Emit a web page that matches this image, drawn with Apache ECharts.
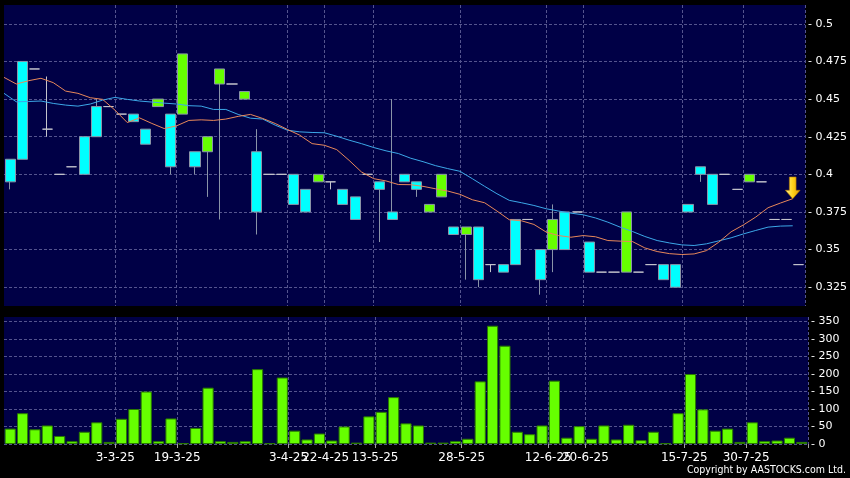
<!DOCTYPE html>
<html><head><meta charset="utf-8">
<script src="https://cdn.jsdelivr.net/npm/echarts@6/dist/echarts.min.js"></script>
<style>html,body{margin:0;padding:0;background:#000;}#c{width:850px;height:478px;}</style>
</head><body><div id="c"></div>
<script>
// ---- data ----
const labelDates = ['3-3-25','19-3-25','3-4-25','22-4-25','13-5-25','28-5-25','12-6-25','20-6-25','15-7-25','30-7-25'];
const labelIndex = [9,14,23,26,30,37,44,47,55,60];

const open = [0.395,0.41,0.47,0.43,0.4,0.405,0.4,0.425,0.445,0.44,
  0.435,0.42,0.45,0.405,0.48,0.405,0.425,0.47,0.46,0.455,
  0.375,0.4,0.4,0.38,0.375,0.4,0.395,0.38,0.37,0.4,
  0.39,0.37,0.395,0.39,0.38,0.4,0.36,0.365,0.33,0.34,
  0.335,0.34,0.37,0.33,0.37,0.35,0.375,0.335,0.335,0.335,
  0.375,0.335,0.34,0.33,0.325,0.375,0.4,0.38,0.4,0.39,
  0.4,0.395,0.37,0.37,0.34];
const close = [0.41,0.475,0.47,0.43,0.4,0.405,0.425,0.445,0.445,0.44,
  0.44,0.43,0.445,0.44,0.44,0.415,0.415,0.46,0.46,0.45,
  0.415,0.4,0.4,0.4,0.39,0.395,0.395,0.39,0.385,0.4,
  0.395,0.375,0.4,0.395,0.375,0.385,0.365,0.36,0.365,0.34,
  0.34,0.37,0.37,0.35,0.35,0.375,0.375,0.355,0.335,0.335,
  0.335,0.335,0.34,0.34,0.34,0.38,0.405,0.4,0.4,0.39,
  0.395,0.395,0.37,0.37,0.34];
const low = [0.39,0.41,0.47,0.425,0.4,0.405,0.4,0.425,0.445,0.44,
  0.435,0.42,0.445,0.4,0.44,0.4,0.385,0.37,0.46,0.45,
  0.36,0.4,0.4,0.38,0.375,0.395,0.39,0.38,0.37,0.4,
  0.355,0.37,0.395,0.385,0.375,0.385,0.36,0.33,0.325,0.335,
  0.335,0.34,0.37,0.32,0.335,0.35,0.375,0.335,0.335,0.335,
  0.335,0.335,0.34,0.33,0.325,0.375,0.395,0.38,0.4,0.39,
  0.395,0.395,0.37,0.37,0.34];
const high = [0.41,0.475,0.47,0.465,0.4,0.405,0.425,0.45,0.445,0.44,
  0.44,0.43,0.45,0.44,0.48,0.415,0.425,0.47,0.46,0.455,
  0.43,0.4,0.4,0.4,0.39,0.4,0.395,0.39,0.385,0.4,
  0.395,0.45,0.4,0.395,0.38,0.4,0.365,0.365,0.365,0.34,
  0.34,0.37,0.37,0.35,0.38,0.375,0.375,0.355,0.335,0.335,
  0.375,0.335,0.34,0.34,0.34,0.38,0.405,0.4,0.4,0.39,
  0.4,0.395,0.37,0.37,0.34];
const volume = [44,88,42,53,23,8,35,62,6,72,
  100,150,8,73,2,46,161,8,6,8,
  214,2,190,38,13,30,10,50,4,79,
  92,134,59,53,4,4,8,15,179,338,
  281,35,28,53,181,18,51,15,53,13,
  55,11,35,2,88,200,99,38,44,6,
  62,8,10,18,6];
const maShort = [0.4644,0.4600,0.4622,0.4638,0.4609,0.4553,0.4538,0.4509,0.4498,0.4427,
  0.4344,0.4375,0.4338,0.4304,0.4322,0.4358,0.4362,0.4358,0.4367,0.4385,
  0.4398,0.4371,0.4338,0.4298,0.4260,0.4204,0.4193,0.4164,0.4093,0.4016,
  0.3971,0.3956,0.3932,0.3931,0.3920,0.3904,0.3889,0.3867,0.3831,0.3811,
  0.3756,0.3698,0.3691,0.3667,0.3616,0.3593,0.3582,0.3593,0.3585,0.3560,
  0.3556,0.3553,0.3511,0.3487,0.3473,0.3467,0.3471,0.3493,0.3549,0.3618,
  0.3664,0.3716,0.3778,0.3809,0.3838];
const maLong = [0.4538,0.4482,0.4484,0.4487,0.4471,0.4460,0.4453,0.4467,0.4493,0.4511,
  0.4498,0.4487,0.4480,0.4473,0.4467,0.4456,0.4453,0.4431,0.4431,0.4398,
  0.4373,0.4367,0.4327,0.4293,0.4282,0.4278,0.4276,0.4253,0.4227,0.4204,
  0.4178,0.4156,0.4138,0.4107,0.4084,0.4058,0.4038,0.4020,0.3971,0.3920,
  0.3871,0.3827,0.3811,0.3793,0.3771,0.3756,0.3742,0.3731,0.3710,0.3682,
  0.3649,0.3620,0.3587,0.3560,0.3544,0.3531,0.3527,0.3538,0.3558,0.3578,
  0.3604,0.3627,0.3649,0.3656,0.3658];

// ---- build ----
const N = open.length;
const labelMap = {};
labelIndex.forEach((k, j) => { labelMap[k] = labelDates[j]; });
const categories = Array.from({length: N}, (_, i) => labelMap[i] || ('#' + i));
const edgeCats = Array.from({length: N + 1}, (_, i) => 'e' + i);
const candleData = open.map((o, i) => [o, close[i], low[i], high[i]]);
const isLabel = (idx) => labelMap[idx] !== undefined;

const GRID = '#54548e';
const dash = [3, 2];
const FONT = 'DejaVu Sans';

const chart = echarts.init(document.getElementById('c'));
chart.setOption({
  animation: false,
  backgroundColor: '#000000',
  grid: [
    {left: 4, right: 42, top: 5, height: 301, show: true, backgroundColor: '#000046', borderWidth: 0},
    {left: 4, right: 42, top: 317, height: 127, show: true, backgroundColor: '#000046', borderWidth: 0}
  ],
  xAxis: [
    {type: 'category', gridIndex: 0, data: categories, boundaryGap: true,
     axisLine: {show: false}, axisTick: {show: false}, axisLabel: {show: false},
     splitLine: {show: true, interval: isLabel, lineStyle: {color: GRID, type: dash, width: 1}}},
    {type: 'category', gridIndex: 0, data: edgeCats, boundaryGap: false, show: false},
    {type: 'category', gridIndex: 1, data: categories, boundaryGap: true,
     axisLine: {show: false},
     axisTick: {show: true, interval: isLabel, length: 4, lineStyle: {color: '#a0a0a0'}},
     axisLabel: {show: true, interval: isLabel, formatter: (v, idx) => labelMap[idx] || '',
       color: '#ffffff', fontSize: 12, fontFamily: FONT, margin: 8, padding: [0, 12.37, 0, 0]},
     splitLine: {show: true, interval: isLabel, lineStyle: {color: GRID, type: dash, width: 1}}}
  ],
  yAxis: [
    {type: 'value', gridIndex: 0, position: 'right', min: 0.3125, max: 0.5125, interval: 0.0125,
     axisLine: {show: false}, axisTick: {show: false},
     axisLabel: {color: '#ffffff', fontSize: 11, fontFamily: FONT, margin: 3,
       formatter: v => (Math.round(v / 0.0125) % 2 === 0) ? '- ' + String(Math.round(v * 1000) / 1000) : ''},
     splitLine: {show: true, lineStyle: {color: ['rgba(0,0,0,0)', GRID], type: dash, width: 1}}},
    {type: 'value', gridIndex: 1, position: 'right', min: 0, max: 363, interval: 50,
     axisLine: {show: false}, axisTick: {show: false},
     axisLabel: {color: '#ffffff', fontSize: 11, fontFamily: FONT, margin: 3,
       formatter: v => (v % 50 === 0) ? '- ' + v : ''},
     splitLine: {show: true, showMaxLine: false, lineStyle: {color: GRID, type: dash, width: 1}}}
  ],
  series: [
    {type: 'candlestick', xAxisIndex: 0, yAxisIndex: 0, data: candleData, barWidth: '86%',
     itemStyle: {color: '#00ffff', color0: '#66ff00', borderColor: '#8a94a8', borderColor0: '#8a94a8',
       borderColorDoji: '#c4c4cc', borderWidth: 1}},
    {type: 'line', xAxisIndex: 1, yAxisIndex: 0, data: maLong, showSymbol: false, silent: true,
     lineStyle: {color: '#3ca8e8', width: 1}},
    {type: 'line', xAxisIndex: 1, yAxisIndex: 0, data: maShort, showSymbol: false, silent: true,
     lineStyle: {color: '#e8885a', width: 1},
     markPoint: {silent: true, data: [{coord: [N - 1, maShort[N - 1]]}],
       symbol: 'path://M4,0 L10.7,0 L10.7,13.3 L14.7,13.3 L7.35,21.7 L0,13.3 L4,13.3 Z',
       symbolSize: [14.7, 21.7], symbolOffset: [0, '-50%'],
       label: {show: false},
       itemStyle: {color: {type: 'linear', x: 0, y: 0, x2: 1, y2: 0,
         colorStops: [{offset: 0, color: '#fff08a'}, {offset: 0.5, color: '#ffd21a'}, {offset: 1, color: '#e09a00'}]},
         borderColor: '#b07800', borderWidth: 0.6}}},
    {type: 'bar', xAxisIndex: 2, yAxisIndex: 1, data: volume, barWidth: '90%',
     itemStyle: {color: '#66ff00', borderColor: '#2a7a00', borderWidth: 1}}
  ],
  graphic: [
    {type: 'text', right: 4, top: 465, silent: true,
     style: {text: 'Copyright by AASTOCKS.com Ltd.', fill: '#ffffff', font: '10.5px "DejaVu Sans Condensed"'}}
  ]
});
</script></body></html>
